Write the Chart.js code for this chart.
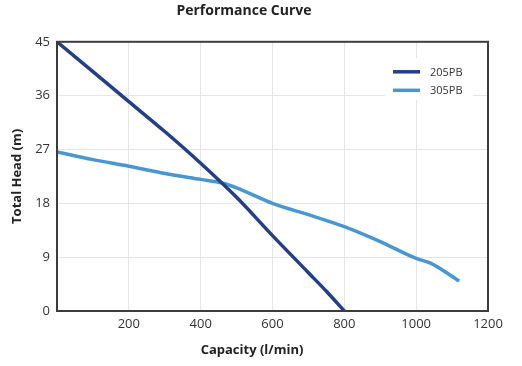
<!DOCTYPE html>
<html>
<head>
<meta charset="utf-8">
<script src="https://cdn.jsdelivr.net/npm/chart.js@4"></script>
<style>
  html, body { margin: 0; padding: 0; background: #fff; }
  #wrap { width: 522px; height: 366px; }
</style>
</head>
<body>
<div id="wrap"><canvas id="curveChart" width="522" height="366"></canvas></div>
<script>
// values
const seriesNames = ['205PB', '305PB'];
const capacity205 = [0, 100, 200, 300, 400, 500, 600, 700, 750, 800];
const head205 = [45, 40, 35, 30, 24.7, 19, 12.6, 6.4, 3.3, 0];
const capacity305 = [0, 100, 200, 300, 400, 460, 500, 600, 700, 800, 900, 1000, 1040, 1120];
const head305 = [26.6, 25.3, 24.2, 23.0, 22.0, 21.4, 20.6, 18.0, 16.1, 14.1, 11.6, 8.8, 8.0, 5.0];
const xTicks = [0, 200, 400, 600, 800, 1000, 1200];
const yTicks = [0, 9, 18, 27, 36, 45];

const colors = ['#223f8b', '#4798d2'];
const font = 'Open Sans';

const toPoints = (xs, ys) => xs.map((x, i) => ({ x: x, y: ys[i] }));

// frame round the plot, legend inside the top right corner, x axis title
const extras = {
    id: 'extras',
    afterDraw(chart) {
        const { ctx, chartArea: a } = chart;
        ctx.save();
        ctx.strokeStyle = '#3c3c3c';
        ctx.lineWidth = 2;
        ctx.strokeRect(a.left, a.top, a.right - a.left, a.bottom - a.top);

        const lx = a.right - 95;
        const ly = a.top + 30;
        ctx.fillStyle = '#fff';
        ctx.fillRect(lx - 8, ly - 14, 88, 42);
        ctx.font = '11px "' + font + '"';
        ctx.textBaseline = 'middle';
        chart.data.datasets.forEach((ds, i) => {
            const y = ly + i * 18.5;
            ctx.strokeStyle = ds.borderColor;
            ctx.lineWidth = 3.5;
            ctx.beginPath();
            ctx.moveTo(lx, y);
            ctx.lineTo(lx + 27, y);
            ctx.stroke();
            ctx.fillStyle = '#333';
            ctx.fillText(ds.label, lx + 37, y + 1);
        });

        ctx.font = 'bold 13px "' + font + '"';
        ctx.fillStyle = '#222';
        ctx.textAlign = 'center';
        ctx.fillText('Capacity (l/min)', 252, 350);
        ctx.restore();
    }
};

new Chart(document.getElementById('curveChart'), {
    type: 'line',
    data: {
        datasets: [{
            label: seriesNames[0],
            data: toPoints(capacity205, head205),
            borderColor: colors[0],
            backgroundColor: colors[0],
            borderWidth: 3.5,
            pointRadius: 0,
            cubicInterpolationMode: 'monotone'
        }, {
            label: seriesNames[1],
            data: toPoints(capacity305, head305),
            borderColor: colors[1],
            backgroundColor: colors[1],
            borderWidth: 3.5,
            pointRadius: 0,
            cubicInterpolationMode: 'monotone'
        }]
    },
    options: {
        responsive: false,
        animation: false,
        layout: { padding: { left: 0, right: 34, top: 0, bottom: 0 } },
        plugins: {
            legend: { display: false },
            tooltip: { enabled: false },
            title: {
                display: true,
                text: 'Performance Curve',
                color: '#222',
                font: { family: font, size: 14, weight: 'bold' },
                padding: { top: 3, bottom: 22 }
            }
        },
        scales: {
            x: {
                type: 'linear',
                min: 0,
                max: 1200,
                afterBuildTicks: (s) => { s.ticks = xTicks.map(v => ({ value: v })); },
                afterFit: (s) => { s.height = 55; },
                grid: { color: '#e6e6e6', drawTicks: false },
                border: { display: false },
                ticks: {
                    padding: 5,
                    color: '#333',
                    font: { family: font, size: 13 },
                    callback: (v) => v === 0 ? '' : v
                }
            },
            y: {
                min: 0,
                max: 45,
                afterBuildTicks: (s) => { s.ticks = yTicks.map(v => ({ value: v })); },
                afterFit: (s) => { s.width = 57; },
                grid: { color: '#e6e6e6', drawTicks: false },
                border: { display: false },
                ticks: {
                    padding: 7,
                    color: '#333',
                    font: { family: font, size: 13 }
                },
                title: {
                    display: true,
                    text: 'Total Head (m)',
                    color: '#222',
                    font: { family: font, size: 13, weight: 'bold' },
                    padding: { top: 9, bottom: 0 }
                }
            }
        }
    },
    plugins: [extras]
});
</script>
</body>
</html>
